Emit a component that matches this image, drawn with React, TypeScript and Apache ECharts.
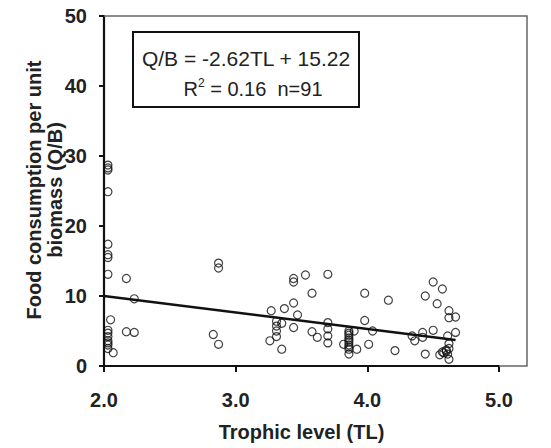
import React, { useEffect, useRef } from "react";
import * as echarts from "echarts";

// Trophic level (TL) values
const tl: number[] = [
  2.03, 2.03, 2.03, 2.03, 2.03, 2.03, 2.03, 2.03, 2.05, 2.03, 2.03, 2.03, 2.03, 2.03, 2.03, 2.03, 2.07,
  2.17, 2.23, 2.17, 2.23,
  2.87, 2.87, 2.83, 2.87,
  3.44, 3.44, 3.53, 3.58, 3.44, 3.37, 3.27, 3.47, 3.31, 3.35, 3.31, 3.31, 3.31, 3.26, 3.44, 3.58, 3.62, 3.35,
  3.70, 3.70, 3.70, 3.70, 3.70,
  3.86, 3.86, 3.86, 3.86, 3.86, 3.86, 3.86, 3.86, 3.86, 3.86, 3.90, 3.82, 3.92,
  3.98, 3.98, 4.04, 4.01,
  4.16, 4.44, 4.50, 4.57, 4.53, 4.62, 4.62, 4.67, 4.67, 4.61, 4.62, 4.50, 4.42, 4.42, 4.34, 4.36, 4.21, 4.44,
  4.55, 4.58, 4.60, 4.62, 4.61, 4.62, 4.57, 4.60,
];

// Food consumption per unit biomass (Q/B) values, same order
const qb: number[] = [
  28.7, 28.3, 28.0, 24.9, 17.4, 15.9, 15.5, 13.1, 6.6, 5.1, 4.7, 4.2, 3.6, 3.3, 3.0, 2.5, 1.9,
  12.5, 9.6, 4.9, 4.8,
  14.7, 14.0, 4.5, 3.1,
  12.5, 12.0, 13.0, 10.4, 9.0, 8.2, 7.9, 7.3, 6.4, 6.1, 5.7, 5.0, 4.2, 3.6, 5.5, 4.9, 4.1, 2.4,
  13.1, 6.2, 5.3, 4.3, 3.3,
  5.0, 4.7, 4.4, 4.0, 3.7, 3.4, 3.0, 2.7, 2.4, 1.7, 5.0, 3.1, 2.4,
  10.4, 6.5, 5.0, 3.1,
  9.4, 10.0, 12.0, 11.0, 8.9, 7.9, 6.9, 7.0, 4.8, 4.3, 3.2, 5.1, 4.8, 4.1, 4.3, 3.6, 2.2, 1.7,
  1.6, 1.9, 2.3, 2.5, 1.7, 0.95, 2.0, 2.1,
];

// Fitted line end points as drawn
const fitTL: number[] = [2.0, 4.67];
const fitQB: number[] = [10.0, 3.7];

const xTicks = { min: 2, max: 5, interval: 1 };
const yTicks = { min: 0, max: 50, interval: 10 };

const equationText = "Q/B = -2.62TL + 15.22";
const statsText = "{r|R}{s|2}{r| = 0.16  n=91}";
const xTitle = "Trophic level (TL)";
const yTitle = "Food consumption per unit\nbiomass (Q/B)";

const FONT = "'Liberation Sans', Arial, Helvetica, sans-serif";

export default function App() {
  const ref = useRef<HTMLDivElement>(null);

  useEffect(() => {
    if (!ref.current) return;
    const chart = echarts.init(ref.current, undefined, { renderer: "svg" });
    const points = tl.map((x, i) => [x, qb[i]]);
    const fit = fitTL.map((x, i) => [x, fitQB[i]]);

    chart.setOption({
      animation: false,
      backgroundColor: "#ffffff",
      grid: { left: 104, top: 16, width: 395, height: 350, containLabel: false },
      xAxis: {
        type: "value",
        min: xTicks.min,
        max: xTicks.max,
        interval: xTicks.interval,
        name: xTitle,
        nameLocation: "middle",
        nameGap: 56,
        nameTextStyle: { fontFamily: FONT, fontWeight: "bold", fontSize: 20, color: "#222" },
        axisLine: { onZero: false, lineStyle: { color: "#111", width: 2.2 } },
        axisTick: { show: true, inside: false, length: 6, lineStyle: { color: "#111", width: 2 } },
        axisLabel: {
          fontFamily: FONT,
          fontWeight: "bold",
          fontSize: 20,
          color: "#222",
          margin: 24,
          formatter: (v: number) => v.toFixed(1),
        },
        splitLine: { show: false },
      },
      yAxis: {
        type: "value",
        min: yTicks.min,
        max: yTicks.max,
        interval: yTicks.interval,
        axisLine: { onZero: false, lineStyle: { color: "#111", width: 2.2 } },
        axisTick: { show: true, inside: false, length: 5, lineStyle: { color: "#111", width: 2 } },
        axisLabel: {
          fontFamily: FONT,
          fontWeight: "bold",
          fontSize: 20,
          color: "#222",
          margin: 17,
        },
        splitLine: { show: false },
      },
      graphic: [
        {
          type: "polyline",
          shape: { points: [[104, 16], [527, 16], [527, 366], [499, 366]] },
          style: { stroke: "#666", lineWidth: 1.5, fill: null },
          z: 1,
        },
        {
          type: "rect",
          shape: { x: 133, y: 32, width: 226, height: 75 },
          style: { stroke: "#111", lineWidth: 2, fill: "#fff" },
          z: 10,
        },
        {
          type: "text",
          x: 246,
          y: 58,
          style: {
            text: equationText,
            fontFamily: FONT,
            fontSize: 21,
            fill: "#222",
            align: "center",
            verticalAlign: "middle",
          },
          z: 11,
        },
        {
          type: "text",
          x: 253,
          y: 89,
          style: {
            text: statsText,
            align: "center",
            verticalAlign: "middle",
            rich: {
              r: { fontFamily: FONT, fontSize: 20, fill: "#222", lineHeight: 24 },
              s: { fontFamily: FONT, fontSize: 12, fill: "#222", lineHeight: 12, verticalAlign: "top" },
            },
          },
          z: 11,
        },
        {
          type: "text",
          x: 44,
          y: 190,
          rotation: Math.PI / 2,
          style: {
            text: yTitle,
            fontFamily: FONT,
            fontWeight: "bold",
            fontSize: 20,
            lineHeight: 21,
            fill: "#222",
            align: "center",
            verticalAlign: "middle",
          },
        },
      ],
      series: [
        {
          type: "scatter",
          data: points,
          symbol: "circle",
          symbolSize: 8,
          itemStyle: { color: "rgba(0,0,0,0)", borderColor: "#111", borderWidth: 1.2 },
          z: 3,
        },
        {
          type: "line",
          data: fit,
          symbol: "none",
          lineStyle: { color: "#111", width: 2.5 },
          z: 4,
        },
      ],
    });
    return () => chart.dispose();
  }, []);

  return (
    <div
      ref={ref}
      style={{ position: "fixed", left: 0, top: 0, width: 551, height: 448 }}
    />
  );
}
